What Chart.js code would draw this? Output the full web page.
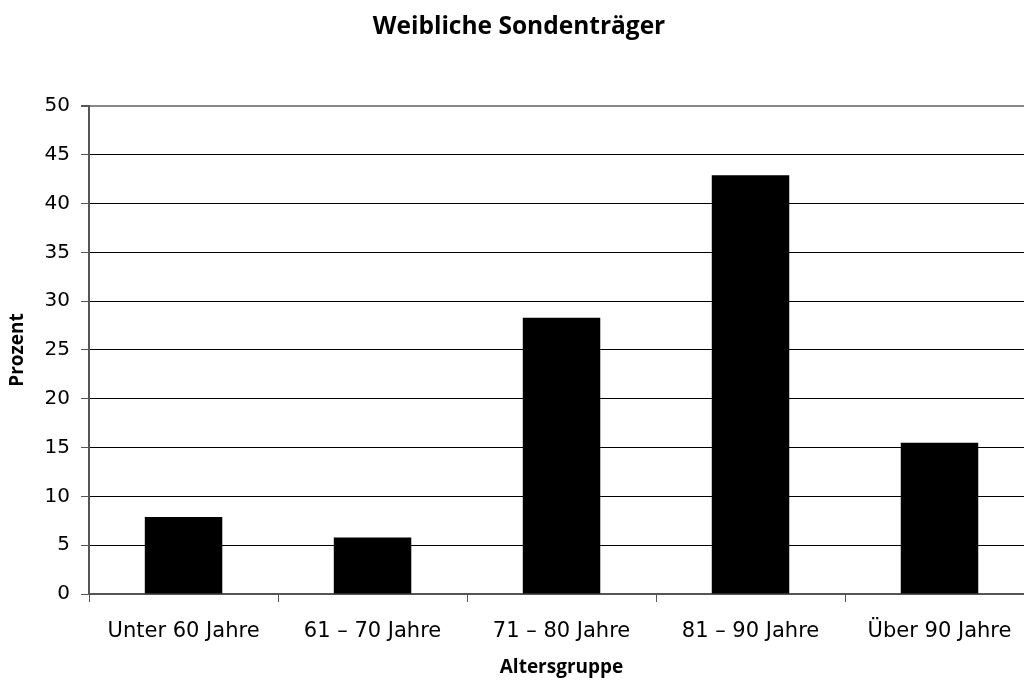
<!DOCTYPE html>
<html>
<head>
<meta charset="utf-8">
<script src="https://cdn.jsdelivr.net/npm/chart.js@4"></script>
<style>
  html, body { margin: 0; padding: 0; background: #fff; overflow: hidden; }
  #wrap { width: 1034px; height: 683px; }
</style>
</head>
<body>
<div id="wrap"><canvas id="myChart"></canvas></div>
<script>
// Werte
const categories = ["Unter 60 Jahre", "61 \u2013 70 Jahre", "71 \u2013 80 Jahre", "81 \u2013 90 Jahre", "\u00dcber 90 Jahre"];
const prozent = [7.9, 5.8, 28.3, 42.9, 15.5];
const yTicks = [0, 5, 10, 15, 20, 25, 30, 35, 40, 45, 50];

const tickFamily = "Verdana, 'DejaVu Sans', sans-serif";
const boldFont = "'Open Sans', sans-serif";

function sondenChart () {
  var ctx = document.getElementById('myChart').getContext('2d');

  const data = {
    labels: categories,
    datasets: [{
      label: "Prozent",
      backgroundColor: '#000',
      borderColor: '#000',
      borderWidth: 0,
      categoryPercentage: 0.82,
      barPercentage: 0.5,
      data: prozent,
    }]
  };

  new Chart(ctx, {
    type: 'bar',
    data: data,
    options: {
      responsive: true,
      maintainAspectRatio: false,
      animation: false,
      layout: {
        padding: { left: 4, right: 0, top: 8, bottom: 4 }
      },
      plugins: {
        legend: { display: false },
        tooltip: { enabled: false },
        title: {
          display: true,
          text: "Weibliche Sondentr\u00e4ger",
          color: '#000',
          font: { family: boldFont, size: 24.5, weight: 'bold' },
          padding: { top: 4, bottom: 64.5 }
        }
      },
      scales: {
        x: {
          offset: true,
          grid: {
            offset: true,
            drawOnChartArea: false,
            drawTicks: true,
            tickLength: 8,
            color: '#555'
          },
          border: { display: true, color: '#555', width: 2 },
          ticks: {
            color: '#000',
            font: { family: tickFamily, size: 21 },
            padding: 17,
            maxRotation: 0
          },
          title: {
            display: true,
            text: "Altersgruppe",
            color: '#000',
            font: { family: boldFont, size: 19, weight: 'bold' },
            padding: { top: -5, bottom: 0 }
          }
        },
        y: {
          min: 0,
          max: 50,
          afterBuildTicks: function (axis) {
            axis.ticks = yTicks.map(function (v) { return { value: v }; });
          },
          grid: {
            color: function (c) { return c.tick && c.tick.value === 50 ? '#888' : '#000'; },
            lineWidth: function (c) { return c.tick && c.tick.value === 50 ? 2 : 1; },
            drawTicks: true,
            tickLength: 8,
            tickColor: '#555'
          },
          border: { display: true, color: '#555', width: 2 },
          ticks: {
            color: '#000',
            font: { family: tickFamily, size: 20 },
            padding: 11
          },
          title: {
            display: true,
            text: "Prozent",
            color: '#000',
            font: { family: boldFont, size: 19, weight: 'bold' },
            padding: { top: 2.6, bottom: 4.2 }
          }
        }
      }
    }
  });
}

sondenChart();
</script>
</body>
</html>
